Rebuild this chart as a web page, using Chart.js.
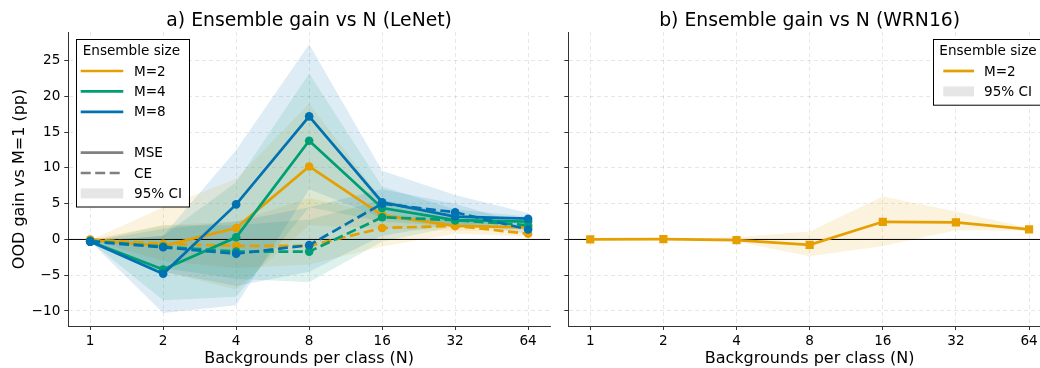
<!DOCTYPE html>
<html>
<head>
<meta charset="utf-8">
<script src="https://cdn.jsdelivr.net/npm/chart.js@4.4.1/dist/chart.umd.min.js"></script>
<style>
  body { margin: 0; background: #fff; overflow: hidden; }
  #wrapA { position: absolute; left: 0; top: 0; width: 560px; height: 368px; }
  #wrapB { position: absolute; left: 560px; top: 0; width: 480px; height: 368px; overflow: hidden; }
</style>
</head>
<body>
<div id="wrapA"><canvas id="lenet" width="560" height="368"></canvas></div>
<div id="wrapB"><canvas id="wrn" width="500" height="368"></canvas></div>
<script>
// x positions are log2(N): 0..6
const xLabels = ['1', '2', '4', '8', '16', '32', '64'];
const yTicks = [-10, -5, 0, 5, 10, 15, 20, 25];

// LeNet, MSE loss (solid)
const lenetMse2 = [-0.1, -0.9, 1.6, 10.2, 3.4, 1.9, 1.7];
const lenetMse4 = [-0.3, -4.2, 0.3, 13.8, 4.4, 2.7, 2.5];
const lenetMse8 = [-0.3, -4.8, 4.9, 17.2, 5.2, 3.2, 2.9];
const lenetMse2Lo = [-0.1, -4.5, -7.0, 2.0, 1.5, 1.2, 1.3];
const lenetMse2Hi = [-0.1, 4.5, 8.5, 19.0, 5.5, 3.0, 2.1];
const lenetMse4Lo = [-0.3, -8.5, -8.0, 4.5, 2.5, 1.8, 2.0];
const lenetMse4Hi = [-0.3, 0.5, 8.0, 23.2, 7.4, 4.2, 3.2];
const lenetMse8Lo = [-0.3, -10.3, -9.2, 7.0, 3.0, 2.0, 2.4];
const lenetMse8Hi = [-0.3, 0.5, 12.5, 27.3, 9.6, 6.2, 3.7];

// LeNet, CE loss (dashed)
const lenetCe2 = [0.0, -0.6, -0.9, -0.9, 1.6, 1.9, 0.8];
const lenetCe4 = [-0.2, -1.0, -1.7, -1.7, 3.1, 2.7, 2.0];
const lenetCe8 = [-0.3, -1.1, -2.0, -0.8, 5.0, 3.8, 1.4];
const lenetCe2Lo = [0.0, -3.0, -4.0, -3.5, -1.0, 0.8, 0.4];
const lenetCe2Hi = [0.0, 2.0, 2.5, 5.8, 3.5, 3.0, 1.2];
const lenetCe4Lo = [-0.2, -4.0, -5.5, -6.0, -0.3, 1.8, 1.4];
const lenetCe4Hi = [-0.2, 2.0, 2.0, 2.8, 5.5, 3.6, 2.6];
const lenetCe8Lo = [-0.3, -4.5, -6.5, -4.5, 0.5, 2.2, 0.8];
const lenetCe8Hi = [-0.3, 1.5, 2.5, 4.5, 7.0, 5.0, 2.0];

// WRN16, M=2
const wrn2 = [0.0, 0.05, -0.1, -0.75, 2.47, 2.38, 1.4];
const wrn2Lo = [0.0, 0.0, -0.3, -2.35, -0.9, 1.3, 1.2];
const wrn2Hi = [0.0, 0.1, 0.3, 1.1, 6.0, 3.9, 1.6];

const ORANGE = '#E69F00';
const GREEN = '#009E73';
const BLUE = '#0072B2';
const FONT = '"DejaVu Sans", sans-serif';

function pts(arr) {
    return arr.map(function (v, i) { return { x: i, y: v }; });
}

function alpha(hex, a) {
    const n = parseInt(hex.slice(1), 16);
    return 'rgba(' + (n >> 16) + ',' + ((n >> 8) & 255) + ',' + (n & 255) + ',' + a + ')';
}

// lower edge + upper edge filled to it
function band(lo, hi, color, order) {
    return [
        { data: pts(lo), borderWidth: 0, pointRadius: 0, fill: false, order: order },
        { data: pts(hi), borderWidth: 0, pointRadius: 0, fill: '-1', backgroundColor: alpha(color, 0.13), order: order }
    ];
}

function series(vals, color, dashed, order, style) {
    return {
        data: pts(vals),
        borderColor: color,
        backgroundColor: color,
        borderWidth: 2.7,
        borderDash: dashed ? [10, 4.5] : [],
        pointRadius: style === 'rect' ? 5.8 : 4.3,
        pointStyle: style || 'circle',
        pointBorderWidth: 0,
        fill: false,
        order: order
    };
}

function zeroLine() {
    return { data: [{ x: -0.3, y: 0 }, { x: 6.3, y: 0 }], borderColor: '#000', borderWidth: 1, pointRadius: 0, fill: false, order: 50 };
}

// matplotlib-like boxed legend drawn on top
const boxLegend = {
    id: 'boxLegend',
    afterDraw(chart, args, o) {
        if (!o || !o.items) return;
        const c = chart.ctx;
        c.save();
        c.fillStyle = '#fff';
        c.fillRect(o.x, o.y, o.w, o.h);
        c.strokeStyle = '#000';
        c.lineWidth = 1;
        c.strokeRect(Math.round(o.x) + 0.5, Math.round(o.y) + 0.5, o.w, o.h);
        c.font = '13.6px ' + FONT;
        c.textBaseline = 'middle';
        c.fillStyle = '#000';
        c.fillText(o.title, o.titleX, o.titleY);
        o.items.forEach(function (it, i) {
            const y = o.rowY + i * o.rowH;
            if (it.kind === 'blank') return;
            if (it.kind === 'patch') {
                c.fillStyle = it.color;
                c.fillRect(o.hx0, y - 5, o.hx1 - o.hx0, 10);
            } else {
                c.strokeStyle = it.color;
                c.lineWidth = 2.7;
                c.setLineDash(it.kind === 'dash' ? [10, 4.5] : []);
                c.beginPath();
                c.moveTo(o.hx0, y);
                c.lineTo(o.hx1, y);
                c.stroke();
                c.setLineDash([]);
            }
            c.fillStyle = '#000';
            c.fillText(it.label, o.tx, y + 1);
        });
        c.restore();
    }
};

function axes(showY, yWidth) {
    const grid = {
        color: 'rgba(0,0,0,0.12)',
        lineWidth: 0.8,
        tickColor: '#333',
        tickLength: 4,
        tickWidth: 1,
        tickBorderDash: []
    };
    return {
        x: {
            type: 'linear',
            min: -0.3,
            max: 6.3,
            afterBuildTicks: function (s) { s.ticks = xLabels.map(function (l, i) { return { value: i }; }); },
            afterFit: function (s) { s.height = 42; },
            ticks: {
                padding: 3,
                color: '#000',
                font: { family: FONT, size: 13.6 },
                maxRotation: 0,
                callback: function (v) { return xLabels[v]; }
            },
            grid: grid,
            border: { display: true, color: '#333', width: 1, dash: [4, 3] },
            title: {
                display: true,
                text: 'Backgrounds per class (N)',
                color: '#000',
                font: { family: FONT, size: 16 },
                padding: { top: 0, bottom: 0 }
            }
        },
        y: {
            type: 'linear',
            min: -12.1,
            max: 29.0,
            afterBuildTicks: function (s) { s.ticks = yTicks.map(function (v) { return { value: v }; }); },
            afterFit: function (s) { s.width = yWidth; },
            ticks: {
                display: showY,
                padding: 4,
                color: '#000',
                font: { family: FONT, size: 13.6 },
                callback: function (v) { return v < 0 ? '\u2212' + Math.abs(v) : String(v); }
            },
            grid: grid,
            border: { display: true, color: '#333', width: 1, dash: [4, 3] },
            title: {
                display: showY,
                text: 'OOD gain vs M=1 (pp)',
                color: '#000',
                font: { family: FONT, size: 16 },
                padding: { top: 10.4, bottom: 0 }
            }
        }
    };
}

function titleOpts(text) {
    return {
        display: true,
        text: text,
        color: '#000',
        fullSize: false,
        font: { family: FONT, size: 18.8, weight: 'normal', lineHeight: 1 },
        padding: { top: 11.5, bottom: 1.7 }
    };
}

// a) LeNet
const lenetSets = []
    .concat(band(lenetMse2Lo, lenetMse2Hi, ORANGE, 120))
    .concat(band(lenetCe2Lo, lenetCe2Hi, ORANGE, 119))
    .concat(band(lenetMse4Lo, lenetMse4Hi, GREEN, 118))
    .concat(band(lenetCe4Lo, lenetCe4Hi, GREEN, 117))
    .concat(band(lenetMse8Lo, lenetMse8Hi, BLUE, 116))
    .concat(band(lenetCe8Lo, lenetCe8Hi, BLUE, 115));
lenetSets.push(zeroLine());
lenetSets.push(series(lenetCe2, ORANGE, true, 12));
lenetSets.push(series(lenetMse2, ORANGE, false, 11));
lenetSets.push(series(lenetCe4, GREEN, true, 8));
lenetSets.push(series(lenetMse4, GREEN, false, 7));
lenetSets.push(series(lenetCe8, BLUE, true, 4));
lenetSets.push(series(lenetMse8, BLUE, false, 3));

const ctxA = document.getElementById('lenet').getContext('2d');
const chartA = new Chart(ctxA, {
    type: 'line',
    data: { datasets: lenetSets },
    plugins: [boxLegend],
    options: {
        responsive: false,
        devicePixelRatio: 1,
        animation: false,
        layout: { padding: { left: 0, right: 10, top: 0, bottom: 0 } },
        scales: axes(true, 68.3),
        plugins: {
            legend: { display: false },
            tooltip: { enabled: false },
            title: titleOpts('a) Ensemble gain vs N (LeNet)'),
            boxLegend: {
                x: 75.5, y: 39, w: 113, h: 167.5,
                title: 'Ensemble size', titleX: 82.7, titleY: 51,
                rowY: 71, rowH: 20.4, hx0: 80.7, hx1: 123.3, tx: 134,
                items: [
                    { label: 'M=2', kind: 'line', color: ORANGE },
                    { label: 'M=4', kind: 'line', color: GREEN },
                    { label: 'M=8', kind: 'line', color: BLUE },
                    { kind: 'blank' },
                    { label: 'MSE', kind: 'line', color: '#808080' },
                    { label: 'CE', kind: 'dash', color: '#808080' },
                    { label: '95% CI', kind: 'patch', color: '#e6e6e6' }
                ]
            }
        }
    }
});

// b) WRN16
const wrnSets = band(wrn2Lo, wrn2Hi, ORANGE, 120);
wrnSets.push(zeroLine());
wrnSets.push(series(wrn2, ORANGE, false, 10, 'rect'));

const ctxB = document.getElementById('wrn').getContext('2d');
const chartB = new Chart(ctxB, {
    type: 'line',
    data: { datasets: wrnSets },
    plugins: [boxLegend],
    options: {
        responsive: false,
        devicePixelRatio: 1,
        animation: false,
        layout: { padding: { left: 0, right: 9, top: 0, bottom: 0 } },
        scales: axes(false, 8.3),
        plugins: {
            legend: { display: false },
            tooltip: { enabled: false },
            title: titleOpts('b) Ensemble gain vs N (WRN16)'),
            boxLegend: {
                x: 373.3, y: 39.3, w: 112, h: 65.7,
                title: 'Ensemble size', titleX: 379.3, titleY: 51,
                rowY: 71, rowH: 20.4, hx0: 383.3, hx1: 414, tx: 424,
                items: [
                    { label: 'M=2', kind: 'line', color: ORANGE },
                    { label: '95% CI', kind: 'patch', color: '#e6e6e6' }
                ]
            }
        }
    }
});
</script>
</body>
</html>
